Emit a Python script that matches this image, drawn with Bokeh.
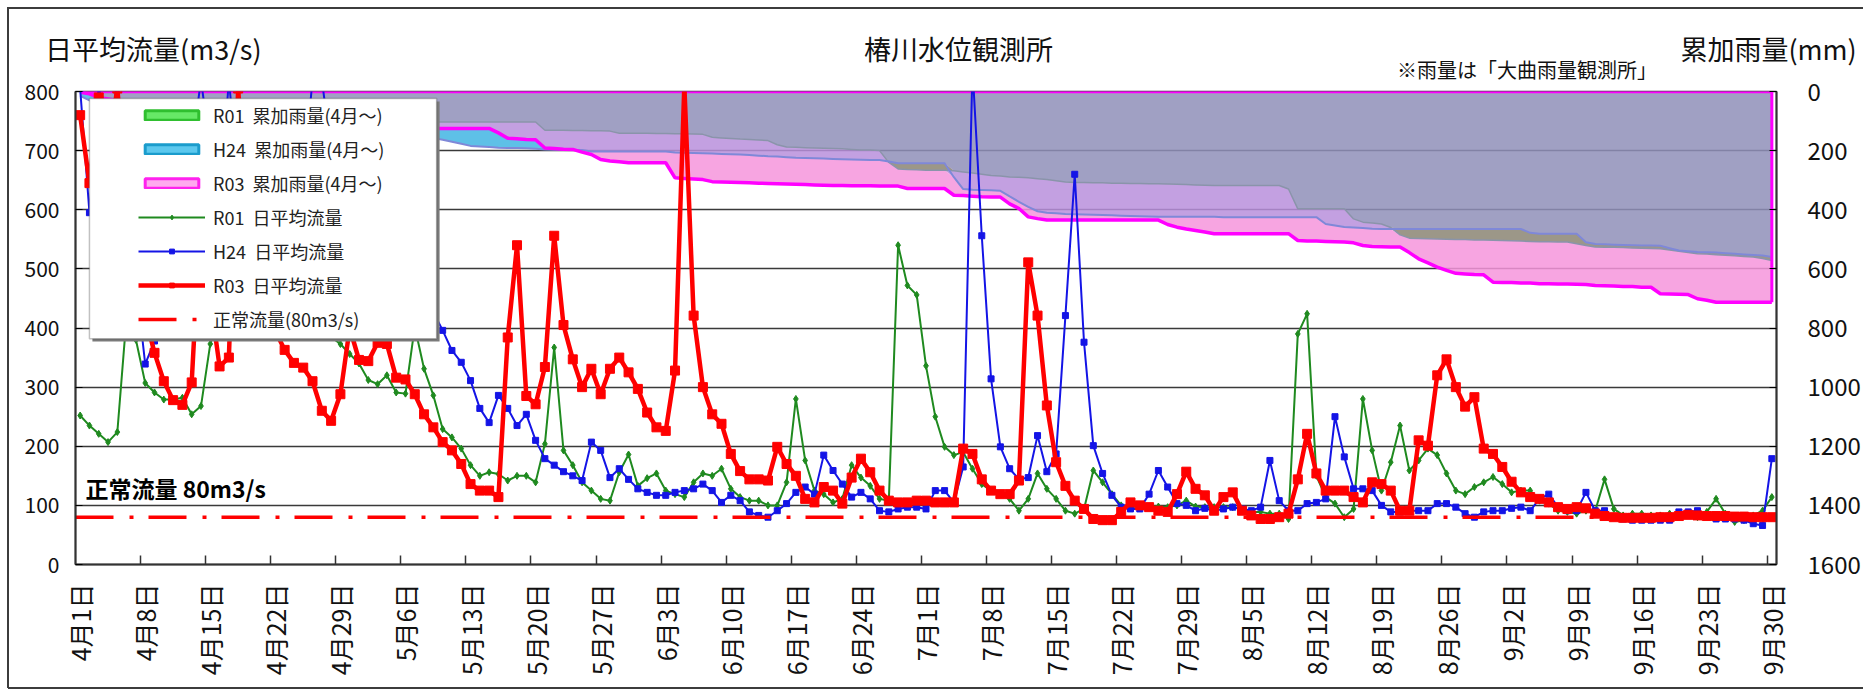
import numpy as np
from bokeh.plotting import figure
from bokeh.models import (Range1d, LinearAxis, FixedTicker, Legend, LegendItem,
                          Label, BoxAnnotation)
from bokeh.embed import file_html
from bokeh.resources import INLINE

# ---------------- data ----------------
DATE_LABELS = ["4月1日", "4月8日", "4月15日", "4月22日", "4月29日", "5月6日", "5月13日",
               "5月20日", "5月27日", "6月3日", "6月10日", "6月17日", "6月24日", "7月1日",
               "7月8日", "7月15日", "7月22日", "7月29日", "8月5日", "8月12日", "8月19日",
               "8月26日", "9月2日", "9月9日", "9月16日", "9月23日", "9月30日"]

R03_FLOW = [760, 645, 790, 700, 805, 620, 500, 420, 358, 310,
            278, 270, 308, 600, 450, 335, 350, 805, 560, 470,
            420, 395, 363, 341, 333, 310, 260, 243, 288, 400,
            346, 344, 375, 373, 316, 313, 288, 254, 232, 207,
            193, 170, 136, 125, 125, 114, 384, 540, 285, 271,
            334, 556, 405, 347, 300, 331, 288, 331, 350, 325,
            297, 257, 232, 226, 328, 810, 421, 300, 254, 238,
            187, 158, 144, 144, 142, 199, 170, 150, 111, 105,
            131, 125, 103, 147, 179, 156, 125, 108, 105, 105,
            108, 108, 105, 105, 105, 196, 187, 144, 125, 119,
            119, 142, 511, 421, 269, 173, 133, 108, 94, 77,
            75, 75, 89, 105, 100, 97, 91, 89, 119, 157,
            128, 117, 91, 114, 122, 91, 83, 77, 77, 80,
            86, 144, 221, 154, 125, 125, 125, 114, 105, 139,
            136, 125, 91, 91, 210, 201, 320, 347, 300, 267,
            283, 196, 187, 165, 140, 122, 114, 111, 105, 97,
            94, 97, 95, 86, 82, 80, 79, 79, 79, 79,
            80, 80, 82, 84, 83, 82, 82, 82, 81, 81,
            80, 80, 80]

R01_FLOW = [252, 235, 221, 207, 224, 420, 380, 307, 291, 279,
            279, 282, 254, 268, 373, 420, 480, 520, 470, 430,
            410, 450, 500, 470, 430, 410, 395, 385, 373, 356,
            340, 312, 305, 320, 291, 289, 402, 331, 286, 229,
            215, 196, 168, 150, 156, 153, 142, 150, 150, 139,
            204, 367, 193, 168, 139, 125, 111, 108, 156, 186,
            133, 146, 154, 125, 119, 114, 139, 154, 150, 162,
            128, 114, 108, 108, 100, 100, 139, 280, 176, 125,
            119, 105, 111, 168, 147, 133, 111, 108, 540, 472,
            456, 336, 250, 199, 185, 190, 162, 136, 125, 119,
            111, 91, 111, 154, 128, 111, 91, 86, 94, 159,
            139, 119, 100, 98, 97, 98, 98, 97, 100, 108,
            98, 97, 97, 97, 97, 94, 89, 89, 86, 86,
            77, 390, 424, 150, 114, 103, 80, 94, 280, 193,
            125, 173, 235, 159, 176, 196, 185, 154, 125, 119,
            131, 139, 148, 136, 122, 125, 125, 108, 103, 91,
            89, 86, 91, 91, 144, 94, 83, 86, 86, 83,
            83, 86, 83, 83, 80, 89, 111, 86, 72, 75,
            83, 91, 114]

H24_FLOW = [805, 595, 810, 700, 820, 650, 480, 339, 378, 420,
            500, 600, 700, 820, 700, 600, 820, 650, 550, 500,
            450, 480, 520, 600, 650, 820, 820, 700, 620, 560,
            520, 500, 480, 470, 460, 450, 440, 430, 427, 396,
            362, 342, 311, 264, 240, 286, 264, 235, 254, 210,
            179, 168, 157, 150, 142, 207, 193, 147, 162, 144,
            128, 122, 117, 117, 122, 125, 128, 136, 125, 105,
            117, 108, 89, 83, 80, 91, 103, 122, 131, 119,
            185, 159, 136, 114, 122, 111, 91, 89, 94, 97,
            97, 94, 125, 125, 105, 165, 840, 556, 314, 199,
            162, 144, 147, 218, 157, 187, 421, 660, 376, 201,
            154, 117, 97, 94, 94, 119, 159, 131, 103, 100,
            91, 95, 91, 94, 97, 94, 91, 97, 176, 108,
            91, 91, 103, 105, 111, 250, 182, 128, 128, 125,
            100, 89, 89, 91, 91, 91, 103, 103, 97, 86,
            80, 89, 91, 91, 95, 97, 91, 111, 119, 97,
            91, 91, 122, 91, 91, 80, 77, 75, 75, 75,
            75, 75, 89, 89, 91, 83, 77, 77, 77, 75,
            69, 66, 179]

R03_RAIN = [3, 8, 20, 25, 30, 40, 45, 48, 50, 52,
            55, 58, 60, 70, 75, 80, 85, 95, 100, 102,
            104, 106, 108, 110, 111, 112, 113, 114, 115, 118,
            120, 121, 122, 122, 123, 124, 124, 125,
            125, 125, 125, 125, 125, 125, 125,
            140, 158, 160, 162, 163, 191, 193, 195, 196,
            205, 213, 230, 235, 238, 241, 241, 241, 241, 241,
            292, 294, 296, 298, 305,
            306, 307, 308, 309, 310, 311, 312, 313, 314, 315, 316, 317, 318, 318, 319,
            319, 319, 320, 320, 320, 328, 328, 328, 328, 328,
            351, 352, 354, 356, 357, 357, 380, 396, 424, 430,
            435, 435, 435, 435, 435, 435, 435, 435, 435, 435, 435, 435, 435,
            450, 459, 465, 470, 475,
            481, 481, 481, 481, 481, 481, 481, 481, 481,
            504, 506, 506, 507, 508, 509, 512, 521, 524, 525, 526, 526,
            545, 566, 580, 594, 605, 615, 617, 619, 620, 645,
            646, 646, 648, 648, 650, 650, 651, 651, 652, 653,
            656, 657, 658, 660, 660, 662, 662,
            684, 685, 686, 687, 701, 706,
            713, 713, 713, 713, 713, 713, 713]

H24_RAIN = [15, 30, 40, 45, 55, 60, 65, 70, 72, 75,
            80, 85, 90, 95, 100, 105, 110, 112, 115, 118,
            120, 122, 125, 128, 130, 132, 135, 138, 140, 142,
            145, 147, 149, 150, 152, 153, 154, 156,
            157, 163, 170, 177, 184, 186, 188, 190, 191, 191, 192, 194, 196,
            197, 197, 198, 198,
            203, 203, 203, 203, 203, 203, 203, 203, 203,
            206, 207, 208, 209, 210, 211, 212,
            213, 215, 217, 219, 220, 222,
            224, 225, 226, 227, 228, 229, 230, 231, 232, 232,
            237, 243, 243, 243, 243, 243, 243,
            290, 330, 332, 333, 334, 336, 355, 373, 390, 405,
            410, 412, 414, 415, 416, 417, 418, 419, 420, 421, 422, 423,
            424, 424, 424, 424, 424, 424, 424,
            425, 425, 425, 425, 425, 425, 425, 425, 425, 425, 425,
            448, 453, 458, 460, 462, 464, 465,
            465, 465, 465, 465, 465, 465, 465, 465, 465, 465, 465, 465, 465, 465, 465,
            478, 481, 481, 481, 481, 481,
            510, 516, 517, 518, 519, 520, 521, 521,
            522, 530, 538, 540, 543,
            544, 545, 547, 549, 551, 553, 555, 560]

R01_RAIN = [2, 10, 25, 28, 30, 45, 50, 50, 52, 55,
            55, 56, 58, 60, 70, 78, 82, 85, 85, 88,
            90, 92, 95, 95, 96, 97, 98, 98, 99, 100,
            100, 101, 101, 102, 102, 102, 103, 103,
            103, 103, 103, 103, 103, 103, 103, 103, 103, 103, 103, 103,
            131, 131, 131, 132, 132, 133, 133, 134,
            141, 141, 141, 141, 142, 142, 143, 143, 144, 145,
            155, 157, 159, 161, 162, 164, 166,
            180, 188, 189, 190, 191, 192, 193, 194, 196, 198, 198,
            200, 240, 262, 264, 265, 266, 266, 266,
            268, 272, 276, 280, 284, 286, 289,
            290, 292, 295, 298, 302, 306,
            308, 308, 309, 309, 310, 310, 311, 311, 312, 312, 313, 314, 315, 316, 317, 318,
            318, 318, 318, 318, 318, 318, 318,
            330, 397, 397, 397, 397, 397, 397,
            431, 442, 445, 448, 460, 485,
            496, 497, 498, 499, 500, 501, 501, 502,
            502, 503, 504, 505, 506, 507, 508, 508, 509, 509,
            515, 521, 526, 527, 527, 528, 529, 530, 531, 532,
            536, 540, 545, 549,
            550, 552, 554, 556, 558, 560, 565, 572]

NORMAL_FLOW = 80
FLOW_TICKS = list(range(0, 801, 100))
RAIN_TICKS = list(range(0, 1601, 200))

TITLE = "椿川水位観測所"
LEFT_TITLE = "日平均流量(m3/s)"
RIGHT_TITLE = "累加雨量(mm)"
NOTE = "※雨量は「大曲雨量観測所」"
NORMAL_TEXT = "正常流量  80m3/s"

assert len(R03_FLOW) == len(R01_FLOW) == len(H24_FLOW) == 183
assert len(R03_RAIN) == len(H24_RAIN) == len(R01_RAIN) == 183

days = np.arange(len(R03_FLOW))
label_days = days[::7]

FONT = "Noto Sans CJK JP"
W, H = 1863, 694
ML, MR, MT, MB = 75, 83, 91, 130
FRAME_W = W - ML - MR

# ---------------- figure ----------------
p = figure(width=W, height=H, output_backend="svg", toolbar_location=None,
           x_range=Range1d(-0.5, 182.5), y_range=Range1d(0, 800),
           min_border_left=ML, min_border_right=MR, min_border_top=MT,
           min_border_bottom=MB, background_fill_color="white",
           border_fill_color="white", border_fill_alpha=0.0)
p.extra_y_ranges = {"rain": Range1d(start=1600, end=0)}
p.extra_x_ranges = {"px": Range1d(0, FRAME_W)}
p.outline_line_color = "#404040"
p.outline_line_width = 1.5
line_css = "linear-gradient(#3c3c3c,#3c3c3c)"
p.styles = {"background": (f"{line_css} 8px 7px / calc(100% - 8px) 2px no-repeat, "
                           f"{line_css} 7px 7px / 2px calc(100% - 13px) no-repeat, "
                           f"{line_css} 8px calc(100% - 5px) / calc(100% - 8px) 2px no-repeat, "
                           "#ffffff")}

# bottom axis (dates)
xa = p.xaxis[0]
xa.ticker = FixedTicker(ticks=[int(d) for d in label_days],
                        minor_ticks=[float(d) - 0.5 for d in label_days[1:]])
xa.major_label_overrides = {int(d): lab for d, lab in zip(label_days, DATE_LABELS)}
xa.major_label_orientation = np.pi / 2
xa.major_label_text_font = FONT
xa.major_label_text_font_size = "25px"
xa.major_label_text_color = "#111111"
xa.major_label_standoff = 19
xa.major_tick_in = 0
xa.major_tick_out = 0
xa.minor_tick_in = 9
xa.minor_tick_out = 0
xa.minor_tick_line_color = "#333333"
xa.minor_tick_line_width = 1.5
xa.axis_line_color = "#333333"
xa.axis_line_width = 2

# left axis (flow)
ya = p.yaxis[0]
ya.ticker = FixedTicker(ticks=FLOW_TICKS)
ya.major_label_text_font = FONT
ya.major_label_text_font_size = "21px"
ya.major_label_text_color = "#111111"
ya.major_label_standoff = 16
ya.major_tick_in = 7
ya.major_tick_out = 0
ya.minor_tick_line_color = None
ya.axis_line_color = "#333333"
ya.axis_line_width = 2

# right axis (cumulative rainfall, inverted)
ra = LinearAxis(y_range_name="rain", ticker=FixedTicker(ticks=RAIN_TICKS))
ra.major_label_text_font = FONT
ra.major_label_text_font_size = "24px"
ra.major_label_text_color = "#111111"
ra.major_label_standoff = 31
ra.major_tick_in = 7
ra.major_tick_out = 0
ra.minor_tick_line_color = None
ra.axis_line_color = "#333333"
ra.axis_line_width = 2
p.add_layout(ra, "right")

# text rows above the frame (as label-only axes)
def text_axis(ticks, texts, size, standoff):
    ax = LinearAxis(x_range_name="px", ticker=FixedTicker(ticks=ticks))
    ax.major_label_overrides = dict(zip(ticks, texts))
    ax.major_label_text_font = FONT
    ax.major_label_text_font_size = size
    ax.major_label_text_color = "#111111"
    ax.major_label_standoff = standoff
    ax.axis_line_color = None
    ax.major_tick_line_color = None
    ax.minor_tick_line_color = None
    ax.major_tick_in = 0
    ax.major_tick_out = 0
    return ax

p.add_layout(text_axis([1455], [NOTE], "20px", 8), "above")
p.add_layout(text_axis([78, 885, 1697], [LEFT_TITLE, TITLE, RIGHT_TITLE], "27px", -16),
             "above")

p.xgrid.visible = False
p.ygrid.ticker = FixedTicker(ticks=FLOW_TICKS)
p.ygrid.grid_line_color = "#3a3a3a"
p.ygrid.grid_line_width = 1.5

# ---------------- cumulative rainfall areas ----------------
r1 = np.array(R01_RAIN, dtype=float)
r2 = np.array(H24_RAIN, dtype=float)
r3 = np.array(R03_RAIN, dtype=float)
stack = np.vstack([r1, r2, r3])
lo = stack.min(axis=0)
mid = np.median(stack, axis=0)
hi = stack.max(axis=0)
imin = stack.argmin(axis=0)
imax = stack.argmax(axis=0)
zero = np.zeros_like(lo)

A = 0.85
p.varea(x=days, y1=zero, y2=lo, fill_color="#8f8fb8", fill_alpha=A, y_range_name="rain")
p.varea(x=days, y1=lo, y2=mid, fill_color="#b88fdc", fill_alpha=A, y_range_name="rain")
p.varea(x=days, y1=lo, y2=np.where(imin == 1, mid, lo), fill_color="#959578",
        fill_alpha=A, y_range_name="rain")
p.varea(x=days, y1=lo, y2=np.where(imin == 2, mid, lo), fill_color="#55b2be",
        fill_alpha=A, y_range_name="rain")
p.varea(x=days, y1=mid, y2=hi, fill_color="#f695dc", fill_alpha=A, y_range_name="rain")
p.varea(x=days, y1=mid, y2=np.where(imax == 1, hi, mid), fill_color="#43c4e7",
        fill_alpha=A, y_range_name="rain")
p.varea(x=days, y1=mid, y2=np.where(imax == 0, hi, mid), fill_color="#78e778",
        fill_alpha=A, y_range_name="rain")

p.line(days, r1, line_color="#8a94aa", line_width=1.5, y_range_name="rain")
p.line(days, r2, line_color="#7f88d8", line_width=2, y_range_name="rain")
p.line(days, r3, line_color="#ff00ff", line_width=3.5, y_range_name="rain")
p.line([days[0], days[-1]], [0, 0], line_color="#ff00ff", line_width=3.5,
       y_range_name="rain")
p.segment(x0=[days[-1]], y0=[0], x1=[days[-1]], y1=[R03_RAIN[-1]],
          line_color="#ff00ff", line_width=3, y_range_name="rain")

# legend-only area swatches (no drawable coordinates)
nan = [np.nan]
sw_r01 = p.quad(left=nan, right=nan, top=nan, bottom=nan, fill_color="#66e866",
                line_color="#2fbf2f", line_width=3)
sw_h24 = p.quad(left=nan, right=nan, top=nan, bottom=nan, fill_color="#5cc8ee",
                line_color="#1b9ccc", line_width=3)
sw_r03 = p.quad(left=nan, right=nan, top=nan, bottom=nan, fill_color="#ffaaee",
                line_color="#ff22ee", line_width=3)

# ---------------- daily flows ----------------
g_l = p.line(days, R01_FLOW, line_color="#1f8a1f", line_width=2)
g_m = p.scatter(days, R01_FLOW, marker="diamond", size=7, fill_color="#1f8a1f",
                line_color="#1f8a1f")
b_l = p.line(days, H24_FLOW, line_color="#1414e6", line_width=2)
b_m = p.scatter(days, H24_FLOW, marker="square", size=6, fill_color="#1414e6",
                line_color="#1414e6")
r_l = p.line(days, R03_FLOW, line_color="#ff0000", line_width=4.5)
r_m = p.scatter(days, R03_FLOW, marker="square", size=9, fill_color="#ff0000",
                line_color="#ff0000")
n_l = p.line([p.x_range.start, p.x_range.end], [NORMAL_FLOW, NORMAL_FLOW],
             line_color="#ff0000", line_width=3.5, line_dash="38 16 4 15")

# ---------------- legend ----------------
shadow = BoxAnnotation(left=1.32, right=38.67, top=783, bottom=377,
                       fill_color="#7a7a7a", fill_alpha=1.0, line_color=None)
box = BoxAnnotation(left=1.0, right=38.35, top=788, bottom=382,
                    fill_color="white", fill_alpha=1.0, line_color="#333333",
                    line_width=1.5)
p.add_layout(shadow)
p.add_layout(box)

items = [
    LegendItem(label="R01  累加雨量(4月～)", renderers=[sw_r01]),
    LegendItem(label="H24  累加雨量(4月～)", renderers=[sw_h24]),
    LegendItem(label="R03  累加雨量(4月～)", renderers=[sw_r03]),
    LegendItem(label="R01  日平均流量", renderers=[g_l, g_m]),
    LegendItem(label="H24  日平均流量", renderers=[b_l, b_m]),
    LegendItem(label="R03  日平均流量", renderers=[r_l, r_m]),
    LegendItem(label="正常流量(80m3/s)", renderers=[n_l]),
]
legend = Legend(items=items, location=(61, 230), orientation="vertical",
                label_text_font=FONT, label_text_font_size="18px",
                label_text_color="#222222", glyph_width=67, glyph_height=12,
                label_height=20, spacing=8, padding=2, label_standoff=8,
                background_fill_alpha=0, border_line_alpha=0, margin=0)
p.add_layout(legend)

# normal-flow annotation inside the frame
p.add_layout(Label(x=0.57, y=NORMAL_FLOW, y_offset=29, text=NORMAL_TEXT, text_font=FONT,
                   text_font_size="23px", text_font_style="bold",
                   text_align="left", text_baseline="middle", text_color="#000000"))

open("out.html", "w").write(file_html(p, INLINE))
